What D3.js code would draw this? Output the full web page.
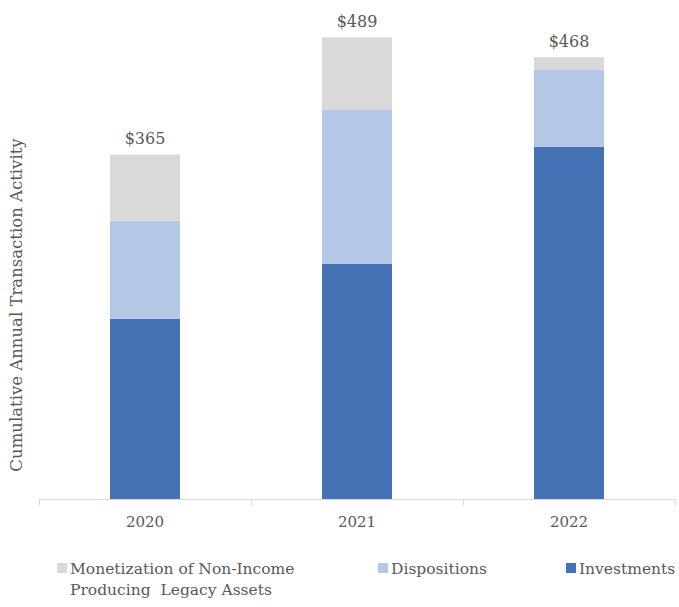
<!DOCTYPE html>
<html>
<head>
<meta charset="utf-8">
<script src="https://cdn.jsdelivr.net/npm/d3@7"></script>
<style>
  body { margin: 0; background: #fff; }
  svg { display: block; }
  text { font-family: "DejaVu Serif", "Liberation Serif", serif; fill: #595959; }
</style>
</head>
<body>
<svg width="679" height="607"></svg>
<script>
// данные графика
const years = ['2020', '2021', '2022'];
const investments = [191, 249, 373];
const dispositions = [104, 163, 82];
const monetization = [70, 77, 13];
const totals = ['$365', '$489', '$468'];
const colors = ['#4472b4', '#b4c7e7', '#d9d9d9'];

const svg = d3.select('svg');
const area = { left: 39, right: 675, top: 27, bottom: 499 };

// таблица для стека
const table = years.map((y, i) => ({
  year: y, inv: investments[i], disp: dispositions[i], mon: monetization[i], label: totals[i]
}));
const stack = d3.stack().keys(['inv', 'disp', 'mon'])(table);

const scX = d3.scaleBand()
  .domain(years)
  .range([area.left, area.right]);
const scY = d3.scaleLinear()
  .domain([0, 500])
  .range([area.bottom, area.top]);

const barW = 70;

// столбцы
svg.append('g').selectAll('g')
  .data(stack)
  .enter()
  .append('g')
  .style('fill', (d, i) => colors[i])
  .selectAll('rect')
  .data(d => d)
  .enter()
  .append('rect')
  .attr('x', d => scX(d.data.year) + scX.bandwidth() / 2 - barW / 2)
  .attr('y', d => scY(d[1]))
  .attr('width', barW)
  .attr('height', d => scY(d[0]) - scY(d[1]));

// ось X
const axisX = d3.axisBottom(scX).tickSize(0).tickPadding(17);
const gx = svg.append('g')
  .attr('transform', `translate(0, ${area.bottom + 0.5})`)
  .call(axisX);
gx.select('.domain').remove();
gx.selectAll('text')
  .style('font-size', '15px')
  .style('font-family', '"DejaVu Serif", serif')
  .attr('fill', '#595959');
gx.append('line')
  .attr('x1', area.left).attr('x2', area.right)
  .attr('stroke', '#d9d9d9').attr('stroke-width', 1);
// деления на границах категорий
const bounds = years.map(y => scX(y)).concat([area.right]);
gx.selectAll('.sep')
  .data(bounds)
  .enter()
  .append('line')
  .attr('x1', d => Math.round(d) + 0.5).attr('x2', d => Math.round(d) + 0.5)
  .attr('y1', 0).attr('y2', 6)
  .attr('stroke', '#d9d9d9');

// подписи сумм
svg.append('g').selectAll('text')
  .data(table)
  .enter()
  .append('text')
  .attr('x', d => scX(d.year) + scX.bandwidth() / 2)
  .attr('y', d => scY(d.inv + d.disp + d.mon) - 10)
  .attr('text-anchor', 'middle')
  .style('font-size', '16px')
  .text(d => d.label);

// подпись оси Y
svg.append('text')
  .attr('transform', 'translate(22, 305) rotate(-90)')
  .attr('text-anchor', 'middle')
  .style('font-size', '16.5px')
  .text('Cumulative Annual Transaction Activity');

// легенда
const legend = [
  { name: 'Monetization of Non-Income', name2: 'Producing  Legacy Assets', color: colors[2], x: 57 },
  { name: 'Dispositions', color: colors[1], x: 378 },
  { name: 'Investments', color: colors[0], x: 566 }
];
const lg = svg.append('g');
legend.forEach(l => {
  lg.append('rect')
    .attr('x', l.x).attr('y', 563)
    .attr('width', 10).attr('height', 10)
    .style('fill', l.color);
  lg.append('text')
    .attr('x', l.x + 13).attr('y', 574)
    .style('font-size', '15.5px')
    .style('white-space', 'pre')
    .text(l.name);
  if (l.name2) {
    lg.append('text')
      .attr('x', l.x + 13).attr('y', 595)
      .style('font-size', '15.5px')
      .style('white-space', 'pre')
      .text(l.name2);
  }
});
</script>
</body>
</html>
